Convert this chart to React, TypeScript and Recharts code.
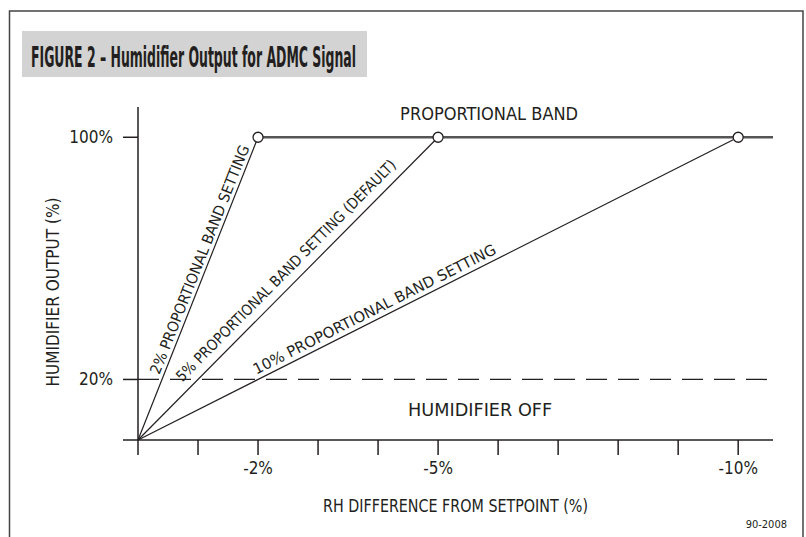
import React from 'react';
import { ComposedChart, XAxis, YAxis, ReferenceLine, ReferenceDot, Scatter } from 'recharts';

const W = 806;
const H = 537;
const FONT = "'Liberation Sans Narrow', 'DejaVu Sans Condensed', 'Liberation Sans', sans-serif";
const INK = '#231f20';

// x = RH difference from setpoint (%), y = humidifier output (%)
const xTicks = [0, -1, -2, -3, -4, -5, -6, -7, -8, -9, -10];
const xTickLabels: Record<string, string> = { '-2': '-2%', '-5': '-5%', '-10': '-10%' };
const yTicks = [0, 20, 100];
const yTickLabels: Record<string, string> = { '20': '20%', '100': '100%' };
const xEnd = -10.58;
const yTop = 110;

// proportional band settings: output reaches 100% at these RH differences
const bandSettings = [-2, -5, -10];
const bandNames = [
  '2% PROPORTIONAL BAND SETTING',
  '5% PROPORTIONAL BAND SETTING (DEFAULT)',
  '10% PROPORTIONAL BAND SETTING',
];
const fullOutput = 100;
const offThreshold = 20;

const notes = [
  { text: 'PROPORTIONAL BAND', x: -5.85, y: 107.7 },
  { text: 'HUMIDIFIER OFF', x: -5.7, y: 10 },
];

// placement of the slanted labels along each line (px)
const slopeLabelStyle = [
  { along: 68, gap: 4, length: 245 },
  { along: 72, gap: 9, length: 305 },
  { along: 135, gap: 5, length: 270 },
];
const noteLength = [178, 144];

const SlopeLabel = (props: any) => {
  const { viewBox, text, along, gap, length } = props;
  if (!viewBox) return null;
  const w = Math.abs(viewBox.width);
  const h = Math.abs(viewBox.height);
  const L = Math.hypot(w, h);
  const ux = w / L;
  const uy = -h / L;
  // normal pointing up-left
  const nx = uy;
  const ny = -ux;
  const ox = viewBox.x;
  const oy = viewBox.y + h;
  const px = ox + ux * along + nx * gap;
  const py = oy + uy * along + ny * gap;
  const angle = (Math.atan2(uy, ux) * 180) / Math.PI;
  return (
    <text
      x={px}
      y={py}
      transform={`rotate(${angle} ${px} ${py})`}
      textLength={length}
      lengthAdjust="spacingAndGlyphs"
      fill={INK}
      fontSize={15}
      fontFamily={FONT}
    >
      {text}
    </text>
  );
};

const NoteLabel = (props: any) => {
  const { viewBox, text, length } = props;
  if (!viewBox) return null;
  const cx = viewBox.x + viewBox.width / 2;
  return (
    <text
      x={cx - length / 2}
      y={viewBox.y + viewBox.height / 2}
      dominantBaseline="central"
      textLength={length}
      lengthAdjust="spacingAndGlyphs"
      fill={INK}
      fontSize={17}
      fontFamily={FONT}
    >
      {text}
    </text>
  );
};

const Circle = (props: any) => (
  <circle cx={props.cx} cy={props.cy} r={5} fill="#fff" stroke={INK} strokeWidth={1.3} />
);

export default function App() {
  const dots = bandSettings.map((x) => ({ x, y: fullOutput }));

  return (
    <div style={{ position: 'absolute', left: 0, top: 0, width: W, height: H, background: '#fff', overflow: 'hidden' }}>
      <ComposedChart width={W} height={H} margin={{ top: 107, right: 33, bottom: 67, left: 58 }}>
        <XAxis
          type="number"
          dataKey="x"
          domain={[xEnd, 0]}
          reversed
          allowDataOverflow
          ticks={xTicks}
          interval={0}
          height={30}
          tickSize={15}
          tickMargin={7}
          tickFormatter={(v: number) => xTickLabels[String(v)] ?? ''}
          axisLine={{ stroke: INK, strokeWidth: 1.5 }}
          tickLine={{ stroke: INK, strokeWidth: 1.5 }}
          tick={{ fill: INK, fontSize: 17, fontFamily: FONT }}
          label={() => (
            <text
              x={323}
              y={506}
              dominantBaseline="central"
              textLength={265}
              lengthAdjust="spacingAndGlyphs"
              fill={INK}
              fontSize={17}
              fontFamily={FONT}
            >
              RH DIFFERENCE FROM SETPOINT (%)
            </text>
          )}
        />
        <YAxis
          type="number"
          dataKey="y"
          domain={[0, yTop]}
          allowDataOverflow
          ticks={yTicks}
          interval={0}
          width={80}
          tickSize={15}
          tickMargin={10}
          tickFormatter={(v: number) => yTickLabels[String(v)] ?? ''}
          axisLine={{ stroke: INK, strokeWidth: 1.5 }}
          tickLine={{ stroke: INK, strokeWidth: 1.5 }}
          tick={{ fill: INK, fontSize: 17, fontFamily: FONT }}
          label={() => {
            const cx = 53;
            const cy = 292;
            return (
              <text
                x={cx}
                y={cy}
                transform={`rotate(-90 ${cx} ${cy})`}
                textAnchor="middle"
                dominantBaseline="central"
                fill={INK}
                fontSize={17}
                fontFamily={FONT}
              >
                HUMIDIFIER OUTPUT (%)
              </text>
            );
          }}
        />
        <ReferenceLine y={offThreshold} stroke={INK} strokeWidth={1.3} strokeDasharray="21 11" />
        <ReferenceLine
          segment={[{ x: bandSettings[0], y: fullOutput }, { x: xEnd, y: fullOutput }]}
          stroke="#555"
          strokeWidth={2.5}
        />
        {bandSettings.map((b, i) => (
          <ReferenceLine
            key={b}
            segment={[{ x: 0, y: 0 }, { x: b, y: fullOutput }]}
            stroke={INK}
            strokeWidth={1.2}
            label={(p: any) => <SlopeLabel {...p} text={bandNames[i]} {...slopeLabelStyle[i]} />}
          />
        ))}
        {notes.map((n, i) => (
          <ReferenceDot
            key={n.text}
            x={n.x}
            y={n.y}
            r={1}
            fillOpacity={0}
            strokeOpacity={0}
            label={(p: any) => <NoteLabel {...p} text={n.text} length={noteLength[i]} />}
          />
        ))}
        <Scatter data={dots} dataKey="y" shape={<Circle />} isAnimationActive={false} />
      </ComposedChart>
      <svg width={W} height={H} style={{ position: 'absolute', left: 0, top: 0, pointerEvents: 'none' }}>
        <path d="M9.5 537 V11 H803 V537" fill="none" stroke="#444" strokeWidth={1.5} />
        <rect x={22} y={31} width={345} height={46} fill="#d3d3d3" />
        <text
          x={31}
          y={67}
          fontSize={28}
          fontWeight="bold"
          fontFamily={FONT}
          fill={INK}
          textLength={325}
          lengthAdjust="spacingAndGlyphs"
        >
          FIGURE 2 – Humidifier Output for ADMC Signal
        </text>
        <text x={787} y={528} textAnchor="end" fontSize={11} fontFamily={FONT} fill={INK}>
          90-2008
        </text>
      </svg>
    </div>
  );
}
